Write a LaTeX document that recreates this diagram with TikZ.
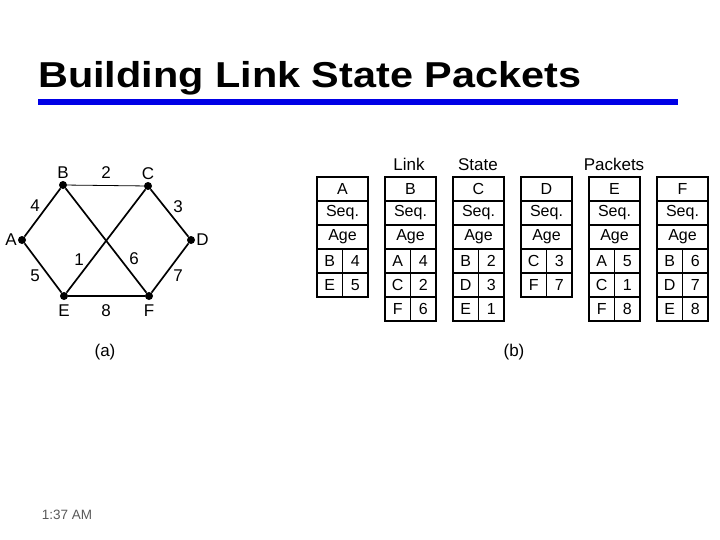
\documentclass[tikz,border=0pt]{standalone}
\usepackage{fontspec}
\setmainfont{Liberation Sans}
\usepackage{tikz}
\usetikzlibrary{positioning}

\definecolor{barblue}{RGB}{0,0,230}

\begin{document}
\begin{tikzpicture}[
	x=1pt, y=-1pt,
	vertex/.style={circle, fill=black, inner sep=0pt, minimum size=8pt},
	lbl/.style={font=\fontsize{17}{17}\selectfont, inner sep=1pt},
	link/.style={line width=1.7pt},
	cell/.style={draw, line width=1.4pt, minimum width=51pt, minimum height=24pt, inner sep=0pt, outer sep=0pt, font=\fontsize{16}{16}\selectfont},
	half/.style={cell, minimum width=25.5pt}
]
\useasboundingbox (0,0) rectangle (720,540);

% title
\node[anchor=base west, inner sep=0pt, font=\fontsize{36}{40}\selectfont\bfseries] (title) at (38,88) {\scalebox{1.15}[1]{Building Link State Packets}};
\fill[barblue] (38,99) rectangle (678,105);

% (a) the network
\node[vertex, label={[lbl]left:A}] (A) at (22,240) {};
\node[vertex, label={[lbl,label distance=1pt]above:B}] (B) at (63,185) {};
\node[vertex, label={[lbl,label distance=1pt]above:C}] (C) at (148,186) {};
\node[vertex, label={[lbl]right:D}] (D) at (191,240) {};
\node[vertex, label={[lbl,label distance=3pt]below:E}] (E) at (64,296) {};
\node[vertex, label={[lbl,label distance=3pt]below:F}] (F) at (149,296) {};

\draw[line width=0.8pt] (B) -- (C);
\draw[link] (A) -- (B);
\draw[link] (A) -- (E);
\draw[link] (C) -- (D);
\draw[link] (D) -- (F);
\draw[link] (E) -- (F);
\draw[link] (B) -- (F);
\draw[link] (C) -- (E);

\node[lbl] (wBC) at (106,173) {2};
\node[lbl] (wAB) at (35,206) {4};
\node[lbl] (wCD) at (178,207) {3};
\node[lbl] (wCE) at (79,260) {1};
\node[lbl] (wBF) at (134,259) {6};
\node[lbl] (wAE) at (35,276) {5};
\node[lbl] (wDF) at (178,276) {7};
\node[lbl] (wEF) at (106,311) {8};
\node[lbl] (capa) at (105,352) {(a)};

% (b) the packets
\node[lbl, anchor=base] (hLink) at (409,171) {Link};
\node[lbl, anchor=base] (hState) at (478,171) {State};
\node[lbl, anchor=base] (hPackets) at (614,171) {Packets};

\foreach \src/\x/\rows in {A/317/{B/4,E/5}, B/385/{A/4,C/2,F/6}, C/453/{B/2,D/3,E/1},
		D/521/{C/3,F/7}, E/589/{A/5,C/1,F/8}, F/657/{B/6,D/7,E/8}} {
	\node[cell, anchor=north west] (\src-name) at (\x,177) {\src};
	\node[cell, below=0pt of \src-name] (\src-seq) {Seq.};
	\node[cell, below=0pt of \src-seq] (\src-age) {Age};
	\foreach \nb/\cost [count=\i] in \rows {
		\node[half, anchor=north west] (\src-n\i) at (\x,249+24*\i-24) {\nb};
		\node[half, right=0pt of \src-n\i] (\src-c\i) {\cost};
	}
}
\node[lbl] (capb) at (514,352) {(b)};

% footer
\node[font=\fontsize{13.5}{14}\selectfont, text=black!65] (clock) at (67,515) {1:37 AM};
\end{tikzpicture}
\end{document}
